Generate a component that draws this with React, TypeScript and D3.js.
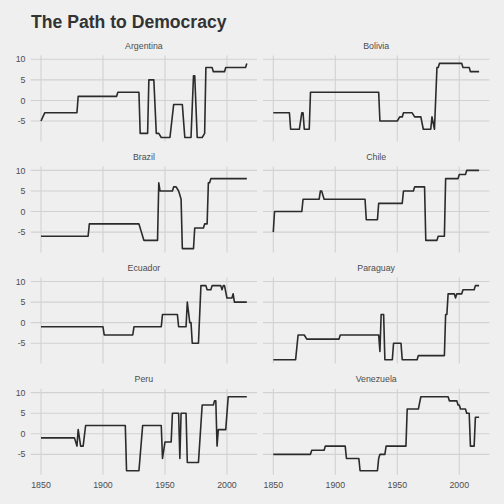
import React from "react";
import * as d3 from "d3";

// polity scores, [year, score] at each corner of the step line
const argentina = [[1850,-5],[1853,-3],[1879,-3],[1880,1],[1911,1],[1912,2],[1929,2],[1930,-8],[1936,-8],[1937,5],[1941,5],[1943,-8],[1945,-8],[1947,-9],[1954,-9],[1957,-1],[1964,-1],[1966,-9],[1971,-9],[1973,6],[1974,6],[1976,-9],[1980,-9],[1982,-8],[1983,8],[1988,8],[1989,7],[1998,7],[1999,8],[2015,8],[2016,9]];
const bolivia = [[1850,-3],[1863,-3],[1864,-7],[1871,-7],[1873,-3],[1874,-3],[1875,-7],[1879,-7],[1880,2],[1935,2],[1936,-5],[1950,-5],[1952,-4],[1954,-4],[1955,-3],[1962,-3],[1964,-4],[1969,-4],[1971,-7],[1977,-7],[1978,-4],[1980,-7],[1982,8],[1983,8],[1984,9],[2002,9],[2003,8],[2008,8],[2009,7],[2016,7]];
const brazil = [[1850,-6],[1888,-6],[1889,-3],[1929,-3],[1931,-5],[1932,-6],[1933,-7],[1944,-7],[1945,7],[1946,5],[1956,5],[1957,6],[1959,6],[1961,5],[1962,4],[1963,3],[1964,-9],[1973,-9],[1974,-4],[1981,-4],[1982,-3],[1984,-3],[1985,7],[1986,7],[1987,8],[2016,8]];
const chile = [[1850,-5],[1851,0],[1873,0],[1874,3],[1887,3],[1888,5],[1889,5],[1891,3],[1924,3],[1925,-2],[1934,-2],[1935,2],[1954,2],[1955,5],[1963,5],[1964,6],[1972,6],[1973,-7],[1982,-7],[1983,-6],[1988,-6],[1989,8],[1999,8],[2000,9],[2005,9],[2006,10],[2016,10]];
const ecuador = [[1850,-1],[1900,-1],[1901,-3],[1924,-3],[1925,-1],[1947,-1],[1948,2],[1960,2],[1961,-1],[1967,-1],[1968,5],[1970,0],[1971,0],[1972,-5],[1977,-5],[1979,9],[1983,9],[1984,8],[1987,8],[1988,9],[1995,9],[1996,8],[1997,9],[1998,9],[2000,6],[2004,6],[2005,7],[2006,5],[2016,5]];
const paraguay = [[1850,-9],[1868,-9],[1870,-3],[1875,-3],[1877,-4],[1903,-4],[1904,-3],[1935,-3],[1936,-7],[1937,2],[1939,2],[1940,-9],[1946,-9],[1947,-5],[1953,-5],[1954,-9],[1966,-9],[1967,-8],[1988,-8],[1989,2],[1990,2],[1991,7],[1996,7],[1997,6],[1998,7],[2002,7],[2003,8],[2012,8],[2013,9],[2016,9]];
const peru = [[1850,-1],[1877,-1],[1879,-3],[1880,1],[1882,-3],[1884,-3],[1886,2],[1918,2],[1919,-9],[1929,-9],[1932,2],[1947,2],[1948,-6],[1950,-2],[1955,-2],[1956,5],[1961,5],[1962,-6],[1963,5],[1967,5],[1968,-7],[1977,-7],[1980,7],[1989,7],[1990,8],[1991,8],[1992,-3],[1993,1],[1999,1],[2001,9],[2016,9]];
const venezuela = [[1850,-5],[1880,-5],[1881,-4],[1891,-4],[1892,-3],[1908,-3],[1909,-6],[1919,-6],[1920,-9],[1934,-9],[1935,-6],[1936,-5],[1940,-5],[1941,-3],[1957,-3],[1958,6],[1967,6],[1969,9],[1991,9],[1992,8],[1998,8],[1999,7],[2000,7],[2001,6],[2005,6],[2006,5],[2008,5],[2009,-3],[2012,-3],[2013,4],[2016,4]];

const countries = ["Argentina", "Bolivia", "Brazil", "Chile", "Ecuador", "Paraguay", "Peru", "Venezuela"];
const series = [argentina, bolivia, brazil, chile, ecuador, paraguay, peru, venezuela];
const xTicks = [1850, 1900, 1950, 2000];
const yTicks = [-5, 0, 5, 10];

const title = "The Path to Democracy";
const bg = "#EFEFEF";
const grid = "#D2D2D2";
const font = "'Liberation Sans', Arial, Helvetica, sans-serif";

const panelW = 226.4;
const panelH = 86;
const colX = [30.7, 263];
const rowY = [55.4, 166.5, 277.6, 388.7];

export default function App() {
  const allX = series.flat().map((d) => d[0]);
  const allY = series.flat().map((d) => d[1]);
  const [x0, x1] = d3.extent(allX) as [number, number];
  const [y0, y1] = d3.extent(allY) as [number, number];
  const dx = (x1 - x0) * 0.05;
  const dy = (y1 - y0) * 0.05;

  const x = d3.scaleLinear().domain([x0 - dx, x1 + dx]).range([0, panelW]);
  const y = d3.scaleLinear().domain([y0 - dy, y1 + dy]).range([panelH, 0]);
  const line = d3
    .line<number[]>()
    .x((d) => x(d[0]))
    .y((d) => y(d[1]));

  return (
    <div style={{ position: "absolute", left: 0, top: 0 }}>
      <svg width={504} height={504} style={{ display: "block", fontFamily: font }}>
        <rect width={504} height={504} fill={bg} />
        <text x={31} y={27.5} fontSize={17.6} fontWeight="bold" fill="#333333">
          {title}
        </text>
        {countries.map((name, i) => {
          const col = i % 2;
          const row = Math.floor(i / 2);
          return (
            <g key={name} transform={`translate(${colX[col]},${rowY[row]})`}>
              <text x={panelW / 2} y={-6.5} textAnchor="middle" fontSize={8.8} fill="#4D4D4D">
                {name}
              </text>
              {yTicks.map((t) => (
                <line key={"h" + t} x1={0} x2={panelW} y1={y(t)} y2={y(t)} stroke={grid} strokeWidth={1.1} />
              ))}
              {xTicks.map((t) => (
                <line key={"v" + t} x1={x(t)} x2={x(t)} y1={0} y2={panelH} stroke={grid} strokeWidth={1.1} />
              ))}
              <path d={line(series[i] as number[][]) || ""} fill="none" stroke="#2B2B2B" strokeWidth={1.6} strokeLinejoin="round" />
              {col === 0 &&
                yTicks.map((t) => (
                  <text key={"yl" + t} x={-5.2} y={y(t)} dy="0.35em" textAnchor="end" fontSize={8.8} fill="#4D4D4D">
                    {t}
                  </text>
                ))}
              {row === 3 &&
                xTicks.map((t) => (
                  <text key={"xl" + t} x={x(t)} y={panelH + 13.3} textAnchor="middle" fontSize={8.8} fill="#4D4D4D">
                    {t}
                  </text>
                ))}
            </g>
          );
        })}
      </svg>
    </div>
  );
}
